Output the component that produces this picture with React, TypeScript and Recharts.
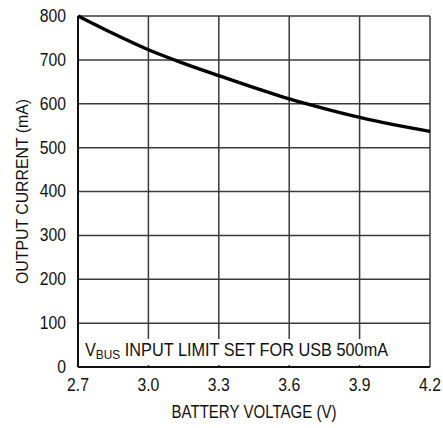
import React from 'react';
import { LineChart, Line, XAxis, YAxis, CartesianGrid, Label } from 'recharts';

document.body.style.margin = '0';

const voltage = [2.7, 2.85, 3.0, 3.15, 3.3, 3.45, 3.6, 3.75, 3.9, 4.05, 4.2];
const current = [800, 760, 723, 692, 664, 637, 611, 589, 569, 552, 537];
const xTicks = [2.7, 3.0, 3.3, 3.6, 3.9, 4.2];
const yTicks = [0, 100, 200, 300, 400, 500, 600, 700, 800];

const data = voltage.map((v, i) => ({ v, mA: current[i] }));

const FONT = '"Liberation Sans", Arial, sans-serif';
const INK = '#111';

// narrow-ish tick text, the source uses a condensed face
const Tick = (props: any) => {
  const { x, y, payload, textAnchor, fmt } = props;
  const s = fmt ? fmt(payload.value) : String(payload.value);
  return (
    <g transform={`translate(${x},${y})`}>
      <text transform="scale(0.9,1.05)" textAnchor={textAnchor} dominantBaseline="central"
        fontFamily={FONT} fontSize={17.5} fill={INK}>{s}</text>
    </g>
  );
};

const XTitle = (props: any) => {
  const vb = props.viewBox;
  return (
    <text x={vb.x + vb.width / 2} y={vb.y + vb.height - 10} textAnchor="middle" fontFamily={FONT}
      fontSize={17.5} fill={INK} textLength={165} lengthAdjust="spacingAndGlyphs">BATTERY VOLTAGE (V)</text>
  );
};

const YTitle = (props: any) => {
  const vb = props.viewBox;
  const cx = 28;
  const cy = vb.y + vb.height / 2;
  return (
    <text x={cx} y={cy} transform={`rotate(-90 ${cx} ${cy})`} textAnchor="middle" fontFamily={FONT}
      fontSize={17} fill={INK} textLength={185} lengthAdjust="spacingAndGlyphs">OUTPUT CURRENT (mA)</text>
  );
};

export default function App() {
  return (
    <div style={{ position: 'relative', width: 443, height: 428, background: '#fff' }}>
      <LineChart width={443} height={428} data={data} margin={{ top: 16, right: 13, bottom: 0, left: 0 }}>
        <CartesianGrid stroke="#3a3a3a" strokeWidth={1.5} />
        <XAxis
          dataKey="v"
          type="number"
          domain={[2.7, 4.2]}
          ticks={xTicks}
          height={61}
          tickSize={0}
          tickMargin={18}
          tick={<Tick fmt={(t: number) => t.toFixed(1)} />}
          axisLine={{ stroke: INK, strokeWidth: 2 }}
        >
          <Label content={<XTitle />} />
        </XAxis>
        <YAxis
          type="number"
          domain={[0, 800]}
          ticks={yTicks}
          width={78}
          tickSize={0}
          tickMargin={12}
          tick={<Tick />}
          axisLine={{ stroke: INK, strokeWidth: 2 }}
        >
          <Label content={<YTitle />} />
        </YAxis>
        <Line dataKey="mA" type="monotone" stroke="#000" strokeWidth={3.4} dot={false} isAnimationActive={false} />
      </LineChart>
      <div style={{ position: 'absolute', left: 85, top: 339, fontFamily: FONT, fontSize: 18.5, color: INK, background: '#fff',
        lineHeight: '21px', whiteSpace: 'nowrap', transform: 'scaleX(0.88)', transformOrigin: 'left top' }}>
        V<sub style={{ fontSize: 13.5, verticalAlign: -3 }}>BUS</sub> INPUT LIMIT SET FOR USB 500mA
      </div>
    </div>
  );
}
